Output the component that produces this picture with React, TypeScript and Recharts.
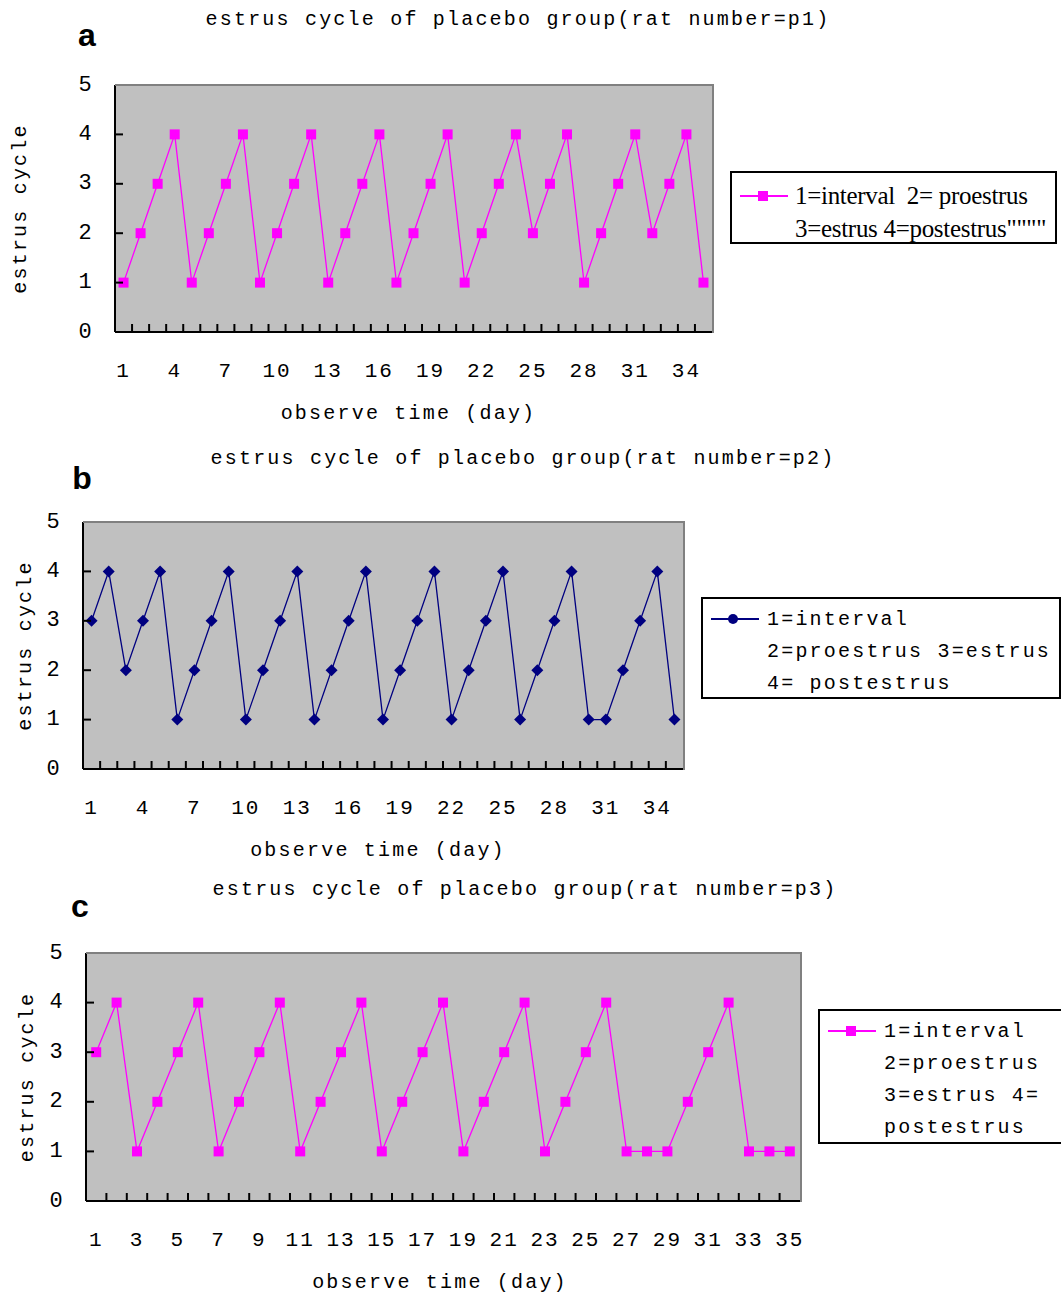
import React from "react";
import { LineChart, Line, XAxis, YAxis, CartesianGrid, Legend, Label } from "recharts";

// observation days (category axis)
const days = [
  1, 2, 3, 4, 5, 6, 7, 8, 9, 10, 11, 12, 13, 14, 15, 16, 17, 18,
  19, 20, 21, 22, 23, 24, 25, 26, 27, 28, 29, 30, 31, 32, 33, 34, 35,
];

// estrus stage per day: 1=interval 2=proestrus 3=estrus 4=postestrus
const ratP1 = [1, 2, 3, 4, 1, 2, 3, 4, 1, 2, 3, 4, 1, 2, 3, 4, 1, 2, 3, 4, 1, 2, 3, 4, 2, 3, 4, 1, 2, 3, 4, 2, 3, 4, 1];
const ratP2 = [3, 4, 2, 3, 4, 1, 2, 3, 4, 1, 2, 3, 4, 1, 2, 3, 4, 1, 2, 3, 4, 1, 2, 3, 4, 1, 2, 3, 4, 1, 1, 2, 3, 4, 1];
const ratP3 = [3, 4, 1, 2, 3, 4, 1, 2, 3, 4, 1, 2, 3, 4, 1, 2, 3, 4, 1, 2, 3, 4, 1, 2, 3, 4, 1, 1, 1, 2, 3, 4, 1, 1, 1];

const yTicks = [0, 1, 2, 3, 4, 5];

const titles = [
  "estrus cycle of placebo group(rat number=p1)",
  "estrus cycle of placebo group(rat number=p2)",
  "estrus cycle of placebo group(rat number=p3)",
];

const legendA = ["1=interval  2= proestrus", '3=estrus 4=postestrus""""'];
const legendB = ["1=interval", "2=proestrus 3=estrus", "4= postestrus"];
const legendC = ["1=interval", "2=proestrus", "3=estrus 4=", "postestrus"];

const MONO = '"Liberation Mono", "DejaVu Sans Mono", monospace';
const SERIF = '"Liberation Serif", "DejaVu Serif", serif';
const MAGENTA = "#ff00ff";
const NAVY = "#000080";

const monoText: React.CSSProperties = {
  fontFamily: MONO,
  fontSize: 20,
  letterSpacing: 2.2,
  color: "#000",
  whiteSpace: "pre",
};

function squareDot(color: string) {
  return (p: any) => (
    <rect key={`d${p.index}`} x={p.cx - 5} y={p.cy - 5} width={10} height={10} fill={color} />
  );
}

function diamondDot(color: string) {
  return (p: any) => (
    <polygon
      key={`d${p.index}`}
      points={`${p.cx},${p.cy - 6} ${p.cx + 6},${p.cy} ${p.cx},${p.cy + 6} ${p.cx - 6},${p.cy}`}
      fill={color}
    />
  );
}

function YTick(props: any) {
  const { x, y, payload } = props;
  return (
    <g>
      <line x1={x} x2={x + 8} y1={y} y2={y} stroke="#000" strokeWidth={2} />
      <text x={x - 30} y={y} textAnchor="middle" dominantBaseline="central" fontFamily={MONO} fontSize={22} fill="#000">
        {payload.value}
      </text>
    </g>
  );
}

function makeXTick(step: number, band: number) {
  return (props: any) => {
    const { x, y, payload, index } = props;
    const left = x - band / 2;
    return (
      <g>
        <line x1={left} x2={left} y1={y} y2={y - 8} stroke="#000" strokeWidth={2} />
        {index % step === 0 && (
          <text x={x} y={y + 39} textAnchor="middle" dominantBaseline="central" fontFamily={MONO} fontSize={21} letterSpacing={2} fill="#000">
            {payload.value}
          </text>
        )}
      </g>
    );
  };
}

function yTitle(cx: number) {
  return (props: any) => {
    const vb = props.viewBox;
    const cy = vb.y + vb.height / 2;
    return (
      <text x={cx} y={cy} transform={`rotate(-90 ${cx} ${cy})`} textAnchor="middle" dominantBaseline="central" fontFamily={MONO} fontSize={20} letterSpacing={2.2} fill="#000">
        estrus cycle
      </text>
    );
  };
}

function xTitle(dx: number) {
  return (props: any) => {
    const vb = props.viewBox;
    const cx = vb.x + vb.width / 2 + dx;
    return (
      <text x={cx} y={vb.y + 81} textAnchor="middle" dominantBaseline="central" fontFamily={MONO} fontSize={20} letterSpacing={2.2} fill="#000">
        observe time (day)
      </text>
    );
  };
}

type PanelProps = {
  top: number;
  height: number;
  plot: { left: number; right: number; top: number; bottom: number };
  values: number[];
  color: string;
  marker: "square" | "diamond";
  labelStep: number;
  yTitleX: number;
  xTitleDx: number;
  legend: { left: number; top: number; width: number; height: number; lines: string[]; serif?: boolean };
};

function Panel({ top, height, plot, values, color, marker, labelStep, yTitleX, xTitleDx, legend }: PanelProps) {
  const data = days.map((d, i) => ({ day: d, stage: values[i] }));
  const yW = 60;
  const xH = 60;
  const width = 1061;
  const band = (plot.right - plot.left) / days.length;
  const dot = marker === "square" ? squareDot(color) : diamondDot(color);

  const renderLegend = () => (
    <div
      style={{
        position: "relative",
        width: legend.width,
        height: legend.height,
        border: "2px solid #000",
        background: "#fff",
        boxSizing: "border-box",
      }}
    >
      <svg width={50} height={20} style={{ position: "absolute", left: 8, top: legend.serif ? 13 : 10 }}>
        <line x1={0} x2={48} y1={10} y2={10} stroke={color} strokeWidth={2} />
        {marker === "square" ? (
          <rect x={18} y={5} width={10} height={10} fill={color} />
        ) : (
          <circle cx={22} cy={10} r={5} fill={color} />
        )}
      </svg>
      {legend.lines.map((t, i) => (
        <div
          key={i}
          style={
            legend.serif
              ? {
                  position: "absolute",
                  left: 63,
                  top: 9 + i * 33,
                  fontFamily: SERIF,
                  fontSize: 25,
                  letterSpacing: -0.3,
                  lineHeight: "28px",
                  whiteSpace: "pre",
                  color: "#000",
                }
              : { ...monoText, position: "absolute", left: 64, top: 8 + i * 32, lineHeight: "26px" }
          }
        >
          {t}
        </div>
      ))}
    </div>
  );

  return (
    <div style={{ position: "absolute", left: 0, top }}>
      <LineChart
        width={width}
        height={height}
        data={data}
        margin={{
          top: plot.top - top,
          right: width - plot.right,
          bottom: top + height - plot.bottom - xH,
          left: plot.left - yW,
        }}
      >
        <CartesianGrid fill="#c0c0c0" horizontal={false} vertical={false} />
        <XAxis
          dataKey="day"
          interval={0}
          height={xH}
          padding={{ left: band / 2, right: band / 2 }}
          stroke="#000"
          strokeWidth={2}
          tickLine={false}
          tickSize={0}
          tickMargin={0}
          tick={makeXTick(labelStep, band)}
        >
          <Label content={xTitle(xTitleDx)} />
        </XAxis>
        <YAxis
          domain={[0, 5]}
          ticks={yTicks}
          width={yW}
          stroke="#000"
          strokeWidth={2}
          tickLine={false}
          tickSize={0}
          tickMargin={0}
          tick={<YTick />}
        >
          <Label content={yTitle(yTitleX)} />
        </YAxis>
        <Legend
          layout="horizontal"
          verticalAlign="middle"
          align="center"
          content={renderLegend}
          wrapperStyle={{ left: legend.left, top: legend.top - top, width: legend.width, height: legend.height }}
        />
        <Line
          type="linear"
          dataKey="stage"
          stroke={color}
          strokeWidth={1.3}
          dot={dot}
          activeDot={false}
          isAnimationActive={false}
        />
      </LineChart>
      {/* grey frame on the top and right of the plot area */}
      <div
        style={{
          position: "absolute",
          left: plot.left,
          top: plot.top - top - 1,
          width: plot.right - plot.left,
          height: plot.bottom - plot.top,
          borderTop: "2px solid #808080",
          borderRight: "2px solid #808080",
          pointerEvents: "none",
        }}
      />
    </div>
  );
}

function Title({ text, cx, cy }: { text: string; cx: number; cy: number }) {
  return (
    <div style={{ ...monoText, position: "absolute", left: cx, top: cy, transform: "translate(-50%, -50%)" }}>
      {text}
    </div>
  );
}

function Letter({ text, cx, cy }: { text: string; cx: number; cy: number }) {
  return (
    <div
      style={{
        position: "absolute",
        left: cx,
        top: cy,
        transform: "translate(-50%, -50%)",
        fontFamily: '"Liberation Sans", Arial, sans-serif',
        fontWeight: 900,
        fontSize: 32,
        lineHeight: 1,
        color: "#000",
      }}
    >
      {text}
    </div>
  );
}

export default function App() {
  return (
    <div style={{ position: "absolute", left: 0, top: 0, width: 1061, height: 1300, background: "#fff", overflow: "hidden" }}>
      <Title text={titles[0]} cx={518} cy={19} />
      <Letter text="a" cx={87} cy={35} />
      <Panel
        top={0}
        height={440}
        plot={{ left: 115, right: 712, top: 85, bottom: 332 }}
        values={ratP1}
        color={MAGENTA}
        marker="square"
        labelStep={3}
        yTitleX={20}
        xTitleDx={-5}
        legend={{ left: 730, top: 171, width: 327, height: 73, lines: legendA, serif: true }}
      />

      <Title text={titles[1]} cx={523} cy={458} />
      <Letter text="b" cx={82} cy={478} />
      <Panel
        top={440}
        height={430}
        plot={{ left: 83, right: 683, top: 522, bottom: 769 }}
        values={ratP2}
        color={NAVY}
        marker="diamond"
        labelStep={3}
        yTitleX={25}
        xTitleDx={-5}
        legend={{ left: 701, top: 597, width: 360, height: 102, lines: legendB }}
      />

      <Title text={titles[2]} cx={525} cy={889} />
      <Letter text="c" cx={80} cy={906} />
      <Panel
        top={870}
        height={430}
        plot={{ left: 86, right: 800, top: 953, bottom: 1201 }}
        values={ratP3}
        color={MAGENTA}
        marker="square"
        labelStep={2}
        yTitleX={27}
        xTitleDx={-3}
        legend={{ left: 818, top: 1009, width: 246, height: 135, lines: legendC }}
      />
    </div>
  );
}
